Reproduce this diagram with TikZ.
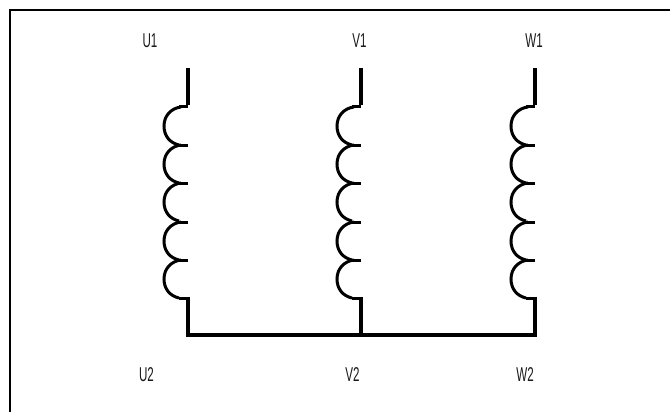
\documentclass[tikz,border=0pt]{standalone}
\usepackage{graphicx}
\usepackage{fontspec}
\setmainfont{Liberation Sans}
\newcommand{\termlabel}[1]{\scalebox{0.58}[1]{#1}}
\tikzset{
  wire/.style={line width=3.4pt,line cap=butt,line join=miter,black},
  turn/.style={line width=3pt,line cap=butt,black},
  frameline/.style={line width=2.4pt,black},
  term/.style={inner sep=0pt,font=\fontsize{20}{20}\selectfont,text=black!90}
}
\begin{document}
\begin{tikzpicture}[x=1pt,y=-1pt]
\useasboundingbox (0,0) rectangle (670,412);
\draw[frameline] (10,412) -- (10,10) -- (670,10);
\foreach \cx/\nm in {188/U,361/V,535/W}{
  \coordinate (\nm-top) at (\cx,68);
  \coordinate (\nm-a) at (\cx,107);
  \coordinate (\nm-b) at (\cx,298);
  \coordinate (\nm-bus) at (\cx,335);
  \draw[wire] (\nm-top) -- ([yshift=1.5pt]\nm-a);
  \foreach \y in {107,145,183,222,260}{
    \draw[turn] (\cx,\y) -- (\cx-9,\y);
    \draw[turn] (\cx-7,\y) .. controls (\cx-16,\y+1) and (\cx-24,\y+8) .. (\cx-24,\y+19)
       .. controls (\cx-24,\y+29) and (\cx-18,\y+36) .. (\cx-9,\y+38);
  }
  \draw[turn] (\cx,298) -- (\cx-9,298);
  \draw[wire] ([yshift=1.5pt]\nm-b) -- (\nm-bus);
}
\draw[wire] ([xshift=-1.7pt]U-bus) -- ([xshift=1.7pt]W-bus);
\node[term] (U1) at (150,41) {\termlabel{U1}};
\node[term] (V1) at (359.5,41) {\termlabel{V1}};
\node[term] (W1) at (534,41) {\termlabel{W1}};
\node[term] (U2) at (146.5,375) {\termlabel{U2}};
\node[term] (V2) at (352.5,375) {\termlabel{V2}};
\node[term] (W2) at (525,375) {\termlabel{W2}};
\end{tikzpicture}
\end{document}
